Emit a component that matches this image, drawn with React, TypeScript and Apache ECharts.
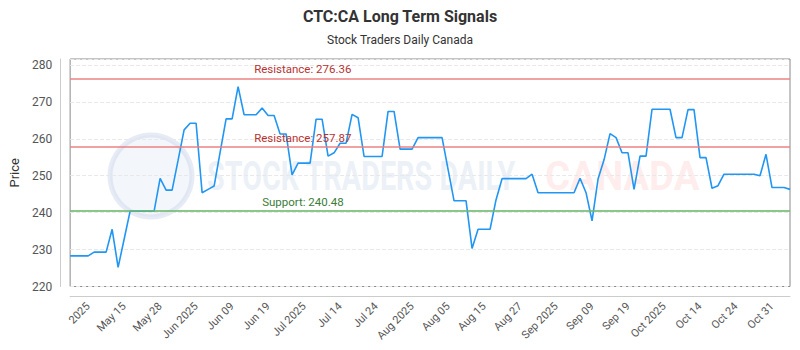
import React, { useEffect, useRef } from "react";
import * as echarts from "echarts";

const titleText = "CTC:CA Long Term Signals";
const subtitleText = "Stock Traders Daily Canada";

const tickLabels = [
  "2025", "May 15", "May 28", "Jun 2025", "Jun 09", "Jun 19", "Jul 2025",
  "Jul 14", "Jul 24", "Aug 2025", "Aug 05", "Aug 15", "Aug 27", "Sep 2025",
  "Sep 09", "Sep 19", "Oct 2025", "Oct 14", "Oct 24", "Oct 31",
];

const prices = [
  228.3, 228.3, 228.3, 228.3, 229.3, 229.3, 229.3, 235.5, 225.2, 232.8,
  240.4, 240.4, 240.4, 240.4, 240.4, 249.3, 246.1, 246.1, 254.2, 262.4,
  264.2, 264.2, 245.4, 246.3, 247.2, 256.3, 265.4, 265.4, 274.1, 266.5,
  266.5, 266.5, 268.3, 266.3, 266.3, 261.3, 261.3, 250.2, 253.4, 253.4,
  253.4, 265.3, 265.3, 255.3, 256.2, 258.8, 258.8, 266.6, 265.7, 255.2,
  255.2, 255.2, 255.2, 267.4, 267.4, 257.2, 257.2, 257.2, 260.3, 260.3,
  260.3, 260.3, 260.3, 251.7, 243.2, 243.2, 243.2, 230.3, 235.5, 235.5,
  235.5, 243.5, 249.2, 249.2, 249.2, 249.2, 249.2, 250.4, 245.4, 245.4,
  245.4, 245.4, 245.4, 245.4, 245.4, 249.3, 245.4, 237.8, 249.1, 254.3,
  261.4, 260.3, 256.2, 256.2, 246.3, 255.3, 255.3, 268.0, 268.0, 268.0,
  268.0, 260.3, 260.3, 267.9, 267.9, 254.9, 254.9, 246.6, 247.3, 250.4,
  250.4, 250.4, 250.4, 250.4, 250.4, 250.0, 255.8, 246.8, 246.8, 246.8,
  246.3,
];

const resistanceHigh = 276.36;
const resistanceLow = 257.87;
const supportLevel = 240.48;

const yMin = 220;
const yMax = 281.6;
const yStep = 10;
const labelEvery = 6;
const labelFirst = 3;

export default function App() {
  const ref = useRef<HTMLDivElement>(null);

  useEffect(() => {
    if (!ref.current) return;
    const chart = echarts.init(ref.current, null, { renderer: "svg" });
    const categories = prices.map((_, i) => String(i));
    const labelFont = "Roboto, 'Noto Sans', sans-serif";

    const markLabel = (text: string, color: string, dx: number) => ({
      position: "insideStartTop",
      distance: [dx, 3],
      formatter: text,
      color,
      fontSize: 11.5,
    });

    chart.setOption({
      animation: false,
      backgroundColor: "#ffffff",
      textStyle: { fontFamily: labelFont },
      title: {
        text: titleText,
        subtext: subtitleText,
        left: "center",
        top: 3,
        itemGap: 10,
        textStyle: { fontFamily: labelFont, fontSize: 16, fontWeight: "bold", color: "#333" },
        subtextStyle: { fontFamily: labelFont, fontSize: 12, color: "#333" },
      },
      graphic: [
        {
          type: "group",
          silent: true,
          z: -10,
          children: [
            {
              type: "circle",
              shape: { cx: 151, cy: 176, r: 41 },
              style: { fill: "rgba(222,230,243,0.35)", stroke: "rgba(205,215,235,0.5)", lineWidth: 5 },
            },
            {
              type: "text",
              x: 207,
              y: 177,
              scaleX: 0.72,
              style: {
                x: 0, y: 0, text: "STOCK TRADERS DAILY",
                fontFamily: "Roboto", fontSize: 40, fontWeight: "bold",
                fill: "rgba(205,216,236,0.38)", verticalAlign: "middle",
              },
            },
            {
              type: "text",
              x: 545,
              y: 177,
              scaleX: 0.96,
              style: {
                x: 0, y: 0, text: "CANADA",
                fontFamily: "Roboto", fontSize: 40, fontWeight: "bold",
                fill: "rgba(255,170,170,0.22)", verticalAlign: "middle",
              },
            },
          ],
        },
      ],
      grid: { left: 67, right: 10, top: 59, bottom: 63.5, show: true, borderColor: "#8a8a8a", borderWidth: 1, backgroundColor: "transparent" },
      xAxis: {
        type: "category",
        data: categories,
        boundaryGap: false,
        offset: 10,
        axisLine: { show: true, lineStyle: { color: "#cccccc" } },
        axisTick: { show: false },
        splitLine: { show: false },
        axisLabel: {
          rotate: 45,
          fontSize: 11,
          color: "#555",
          interval: (i: number) => i % labelEvery === labelFirst,
          formatter: (_v: string, i: number) =>
            i % labelEvery === labelFirst ? tickLabels[(i - labelFirst) / labelEvery] ?? "" : "",
        },
      },
      yAxis: {
        type: "value",
        min: yMin,
        max: yMax,
        interval: yStep,
        offset: 10,
        name: "Price",
        nameLocation: "middle",
        nameGap: 34,
        nameTextStyle: { fontSize: 13, color: "#333" },
        axisLine: { show: true, lineStyle: { color: "#cccccc" } },
        axisTick: { show: false },
        axisLabel: { fontSize: 12, color: "#555", showMaxLabel: false },
        splitLine: { show: true, lineStyle: { color: "#e8e8e8", type: "dashed" } },
      },
      series: [
        {
          type: "line",
          data: prices,
          showSymbol: false,
          symbol: "none",
          lineStyle: { color: "#2196f3", width: 1.6 },
          itemStyle: { color: "#2196f3" },
          markLine: {
            silent: true,
            symbol: "none",
            data: [
              {
                yAxis: resistanceHigh,
                lineStyle: { color: "rgba(236,125,125,0.72)", width: 2, type: "solid" },
                label: markLabel("Resistance: " + resistanceHigh.toFixed(2), "#b83232", 184),
              },
              {
                yAxis: resistanceLow,
                lineStyle: { color: "rgba(236,125,125,0.72)", width: 2, type: "solid" },
                label: markLabel("Resistance: " + resistanceLow.toFixed(2), "#b83232", 184),
              },
              {
                yAxis: supportLevel,
                lineStyle: { color: "rgba(110,185,110,0.8)", width: 2, type: "solid" },
                label: markLabel("Support: " + supportLevel.toFixed(2), "#3a7d3a", 192),
              },
            ],
          },
        },
      ],
    });

    return () => chart.dispose();
  }, []);

  return (
    <div
      ref={ref}
      style={{ position: "fixed", left: 0, top: 0, width: 800, height: 350, background: "#fff" }}
    />
  );
}
